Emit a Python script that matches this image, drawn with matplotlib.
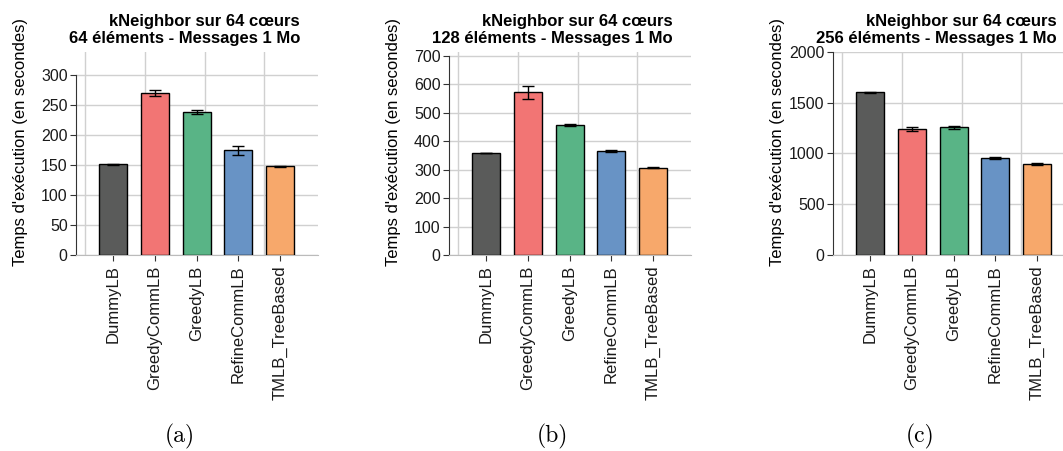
import matplotlib
matplotlib.use('Agg')
import matplotlib.pyplot as plt

plt.rcParams['font.family'] = ['Liberation Sans', 'DejaVu Sans']

# données
methodes = ['DummyLB', 'GreedyCommLB', 'GreedyLB', 'RefineCommLB', 'TMLB_TreeBased']
couleurs = ['#5a5b5a', '#f27574', '#59b486', '#6893c5', '#f7a86b']

temps_64 = [151, 270, 238, 174, 147.5]
err_64 = [0.8, 5, 4, 7.5, 0.8]
temps_128 = [359, 572, 456, 367, 307]
err_128 = [1, 23, 4, 4, 2]
temps_256 = [1601, 1243, 1258, 958, 895]
err_256 = [2, 20, 15, 12, 12]

titres = ['kNeighbor sur 64 cœurs\n64 éléments - Messages 1 Mo',
          'kNeighbor sur 64 cœurs\n128 éléments - Messages 1 Mo',
          'kNeighbor sur 64 cœurs\n256 éléments - Messages 1 Mo']
yticks = [[0, 50, 100, 150, 200, 250, 300],
          [0, 100, 200, 300, 400, 500, 600, 700],
          [0, 500, 1000, 1500, 2000]]
ylims = [338, 714, 2000]
sous_titres = ['(a)', '(b)', '(c)']

donnees = [(temps_64, err_64), (temps_128, err_128), (temps_256, err_256)]
gauches = [0.0715, 0.4224, 0.7836]
legende_x = [0.169, 0.520, 0.866]

fig = plt.figure(figsize=(10.63, 4.51), dpi=100)

for i, (valeurs, erreurs) in enumerate(donnees):
    ax = fig.add_axes([gauches[i], 0.4346, 0.2277, 0.4501])
    x = range(len(methodes))
    ax.bar(x, valeurs, width=0.67, color=couleurs, edgecolor='black',
           linewidth=1.0, zorder=3)
    ax.errorbar(x, valeurs, yerr=erreurs, fmt='none', ecolor='black',
                elinewidth=1.0, capsize=4, capthick=1.0, zorder=4)

    ax.set_xlim(-0.89, 4.91)
    ax.set_ylim(0, ylims[i])
    ax.set_yticks(yticks[i])
    ax.set_xticks(list(x))
    ax.set_xticklabels(methodes, rotation=90, fontsize=12)
    ax.tick_params(axis='y', labelsize=11.5, length=4, pad=2, color='#333333',
                   labelcolor='#1a1a1a')
    ax.tick_params(axis='x', length=4, color='#333333', labelcolor='#1a1a1a')

    # grille
    ax.grid(axis='y', color='#d0d0d0', linewidth=1.0, zorder=0)
    for gx in [-0.67, 0.76, 2.19, 3.62]:
        ax.axvline(gx, color='#d0d0d0', linewidth=1.0, zorder=0)
    ax.set_axisbelow(True)

    for s in ['top', 'right']:
        ax.spines[s].set_visible(False)
    ax.spines['bottom'].set_color('#bbbbbb')
    ax.spines['left'].set_color('#333333')
    ax.spines['left'].set_bounds(0, yticks[i][-1])

    ax.set_ylabel("Temps d'exécution (en secondes)", fontsize=12)
    ax.yaxis.set_label_coords(-0.20, 0.555)

    # titre aligné à droite
    ax.text(0.925, 1.03, titres[i], transform=ax.transAxes, fontsize=12,
            fontweight='bold', ha='right', va='bottom',
            multialignment='right', linespacing=1.17)

    fig.text(legende_x[i], 0.005, sous_titres[i], fontsize=17,
             family='cmr10', ha='center', va='bottom')

fig.savefig('out.png', dpi=100)
